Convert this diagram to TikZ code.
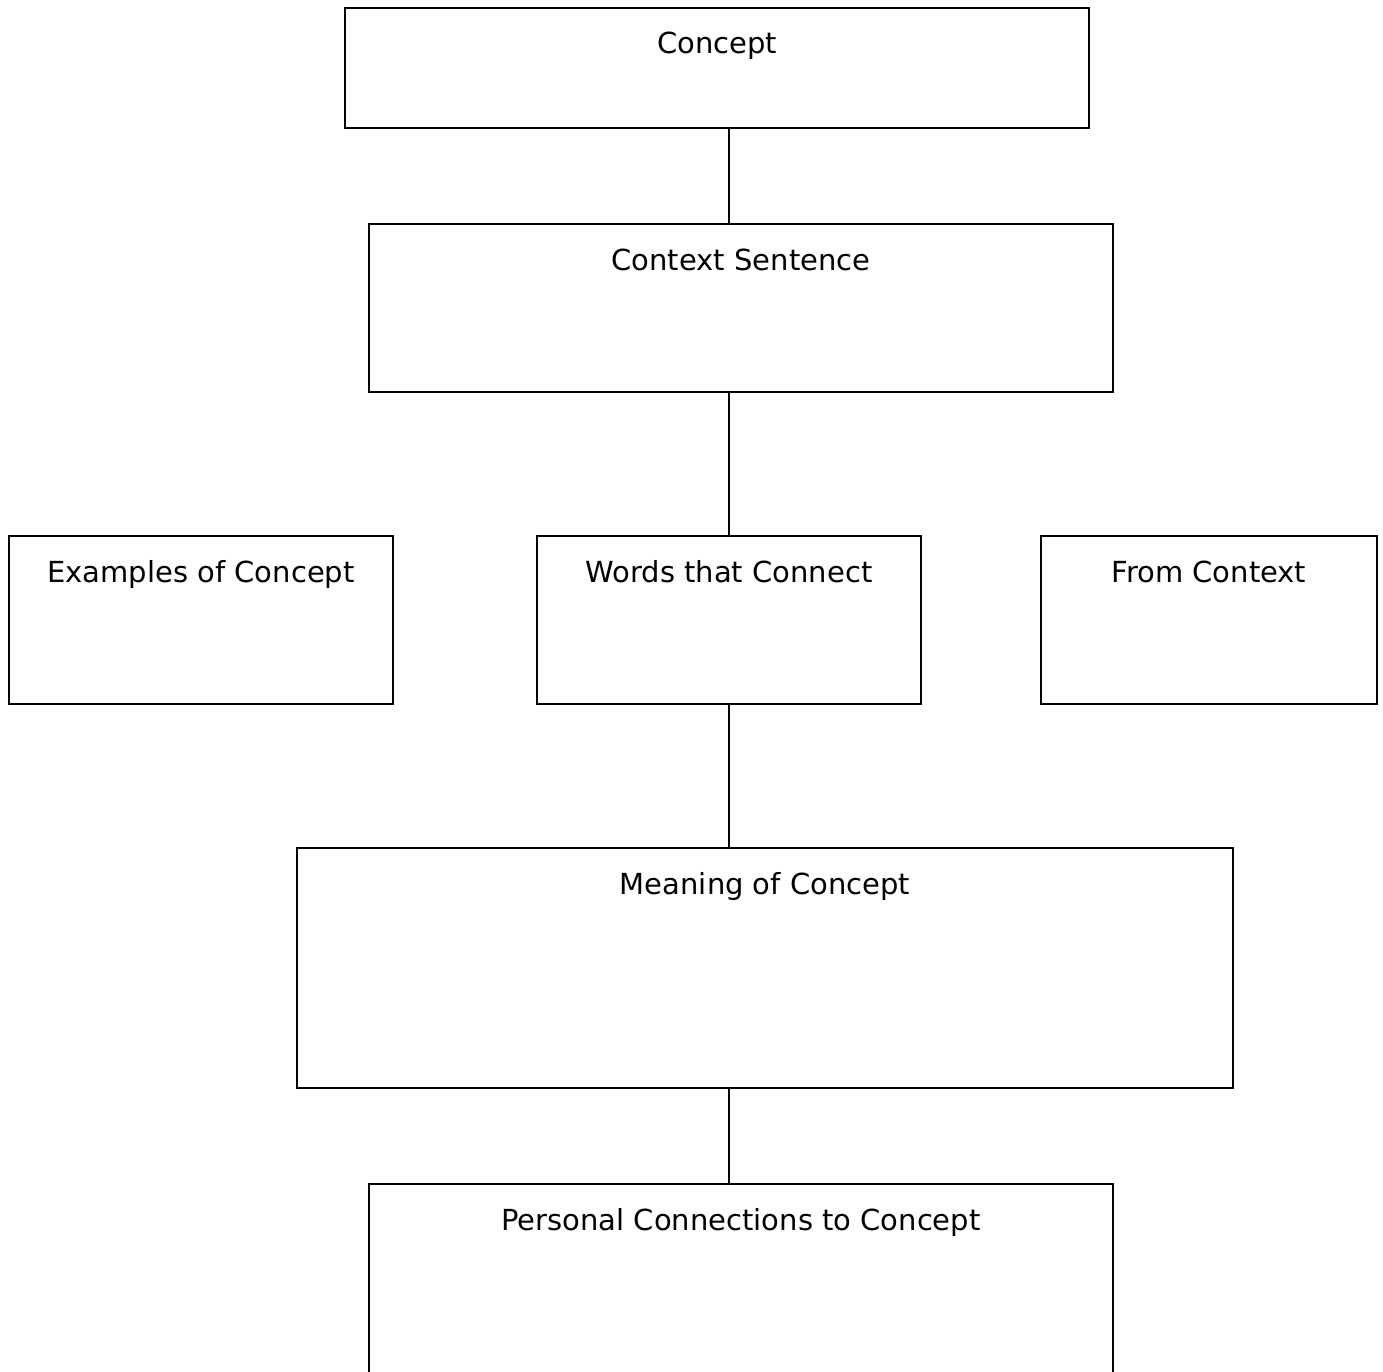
\documentclass[tikz,border=0pt]{standalone}
\usepackage{fontspec}
\setmainfont{DejaVu Sans}
\begin{document}
\begin{tikzpicture}[x=1pt,y=-1pt,
  box/.style={draw=black, line width=2pt, fill=white, inner sep=0pt, rectangle},
  txt/.style={font=\fontsize{29}{34}\selectfont, inner sep=0pt, anchor=base},
  conn/.style={draw=black, line width=2pt}]
\clip (0,0) rectangle (1383,1372);
\fill[white] (0,0) rectangle (1383,1372);
\node[box, minimum width=744pt, minimum height=120pt] (c) at (717,68) {};
\node[box, minimum width=744pt, minimum height=168pt] (cs) at (741,308) {};
\node[box, minimum width=384pt, minimum height=168pt] (ex) at (201,620) {};
\node[box, minimum width=384pt, minimum height=168pt] (w) at (729,620) {};
\node[box, minimum width=336pt, minimum height=168pt] (fc) at (1209,620) {};
\node[box, minimum width=936pt, minimum height=240pt] (m) at (765,968) {};
\node[box, minimum width=744pt, minimum height=240pt] (p) at (741,1304) {};
\node[txt] (tc) at ([yshift=-47pt]c.north) {Concept};
\node[txt] (tcs) at ([yshift=-47pt]cs.north) {Context Sentence};
\node[txt] (tex) at ([yshift=-47pt]ex.north) {Examples of Concept};
\node[txt] (tw) at ([yshift=-47pt]w.north) {Words that Connect};
\node[txt] (tfc) at ([yshift=-47pt]fc.north) {From Context};
\node[txt] (tm) at ([yshift=-47pt]m.north) {Meaning of Concept};
\node[txt] (tp) at ([yshift=-47pt]p.north) {Personal Connections to Concept};
\draw[conn] (w.north |- c.south) -- (w.north |- cs.north);
\draw[conn] (w.north |- cs.south) -- (w.north);
\draw[conn] (w.south) -- (w.south |- m.north);
\draw[conn] (w.south |- m.south) -- (w.south |- p.north);
\end{tikzpicture}
\end{document}
